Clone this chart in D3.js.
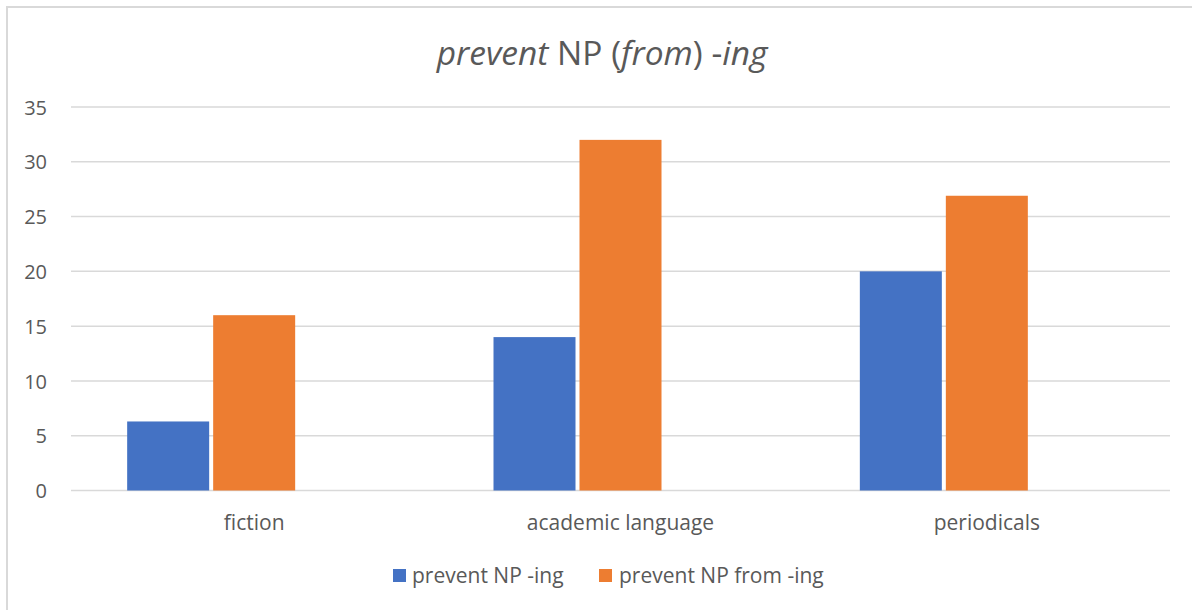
<!DOCTYPE html>
<html><head><meta charset="utf-8">
<script src="https://cdn.jsdelivr.net/npm/d3@7"></script>
<style>body{margin:0;background:#fff;} svg{display:block;}</style>
</head><body>
<svg id="c" width="1192" height="610"></svg>
<script>
const categories = ["fiction", "academic language", "periodicals"];
const seriesNames = ["prevent NP -ing", "prevent NP from -ing"];
const seriesA = [6.3, 14.0, 20.0];
const seriesB = [16.0, 32.0, 26.9];
const yTicks = [0, 5, 10, 15, 20, 25, 30, 35];
const colors = ["#4472C4", "#ED7D31"];

(function () {
const svg = d3.select("#c");
const font = "'Open Sans', sans-serif";
const textColor = "#595959";

// chart border
svg.append("rect").attr("x", 7).attr("y", 7).attr("width", 1200).attr("height", 620)
  .attr("fill", "#fff").attr("stroke", "#d9d9d9").attr("stroke-width", 2);

const pLeft = 71, pRight = 1170, pTop = 107, pBottom = 490.5;
const x = d3.scaleBand().domain(categories).range([pLeft, pRight]);
const y = d3.scaleLinear().domain([0, 35]).range([pBottom, pTop]);

// gridlines
svg.append("g").selectAll("line").data(yTicks).join("line")
  .attr("x1", pLeft).attr("x2", pRight)
  .attr("y1", d => y(d)).attr("y2", d => y(d))
  .attr("stroke", "#d9d9d9").attr("stroke-width", 1.5);

// y axis labels
const yAxis = d3.axisLeft(y).tickValues(yTicks).tickSize(0).tickPadding(0);
const gy = svg.append("g").attr("transform", `translate(47,0)`).call(yAxis);
gy.select(".domain").remove();
gy.selectAll("text").attr("font-family", font).attr("font-size", 20).attr("fill", textColor).attr("dy", "0.36em");

// bars: 3 slots per category (third empty series as in source)
const barW = 82, gap = 4;
const slot = d3.scaleBand().domain([0, 1, 2]).range([0, 3 * barW + 2 * gap]).paddingInner(gap / (barW + gap));
const groupOffset = (x.bandwidth() - (3 * barW + 2 * gap)) / 2;
const series = [seriesA, seriesB];
series.forEach((vals, si) => {
  svg.append("g").selectAll("rect").data(vals).join("rect")
    .attr("x", (d, i) => x(categories[i]) + groupOffset + slot(si))
    .attr("width", slot.bandwidth())
    .attr("y", d => y(d))
    .attr("height", d => y(0) - y(d))
    .attr("fill", colors[si]);
});

// x labels
const xAxis = d3.axisBottom(x).tickSize(0).tickPadding(0);
const gx = svg.append("g").attr("transform", `translate(0,0)`).call(xAxis);
gx.select(".domain").remove();
gx.selectAll("text").attr("font-family", font).attr("font-size", 21).attr("fill", textColor)
  .attr("y", 530).attr("dy", 0);

// title
const t = svg.append("text").attr("x", 602).attr("y", 65).attr("text-anchor", "middle")
  .attr("font-family", font).attr("font-size", 33.5).attr("fill", textColor);
t.append("tspan").attr("font-style", "italic").text("prevent");
t.append("tspan").text(" NP (");
t.append("tspan").attr("font-style", "italic").text("from");
t.append("tspan").text(") -");
t.append("tspan").attr("font-style", "italic").text("ing");

// legend
const legend = [{x: 393, tx: 412}, {x: 599, tx: 619}];
seriesNames.forEach((n, i) => {
  svg.append("rect").attr("x", legend[i].x).attr("y", 569).attr("width", 13).attr("height", 13).attr("fill", colors[i]);
  svg.append("text").attr("x", legend[i].tx).attr("y", 583).attr("font-family", font)
    .attr("font-size", 21).attr("fill", textColor).text(n);
});
})();
</script>
</body></html>
